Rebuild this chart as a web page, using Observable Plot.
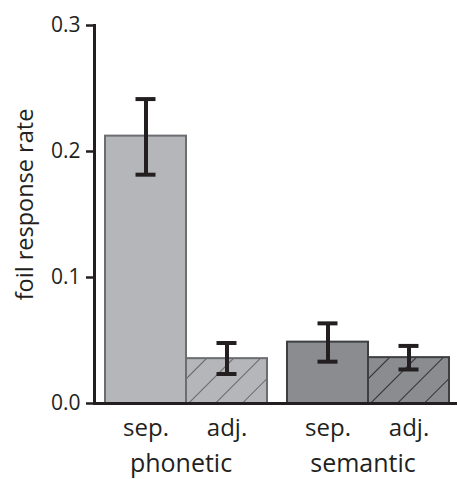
<!DOCTYPE html>
<html>
<head>
<meta charset="utf-8">
<script src="https://cdn.jsdelivr.net/npm/d3@7"></script>
<script src="https://cdn.jsdelivr.net/npm/@observablehq/plot@0.6"></script>
<style>
  html, body { margin: 0; padding: 0; background: #fff; }
</style>
</head>
<body>
<div id="chart"></div>
<script>
const groups = ["phonetic", "phonetic", "semantic", "semantic"];
const conditions = ["sep.", "adj.", "sep.", "adj."];
const rates = [0.2122, 0.0356, 0.0487, 0.0364];
const errLow = [0.1816, 0.0234, 0.0332, 0.0270];
const errHigh = [0.2416, 0.0480, 0.0636, 0.0457];
const yTicks = [0, 0.1, 0.2, 0.3];
const groupOrder = ["phonetic", "semantic"];
const condOrder = ["sep.", "adj."];
const yLabel = ["foil response rate"];

const fillColors = {phonetic: "#b5b6b9", semantic: "#8b8c8f"};
const strokeColors = {phonetic: "#6c6d70", semantic: "#3e3f41"};

const data = groups.map((g, i) => ({
  group: g, cond: conditions[i], rate: rates[i], lo: errLow[i], hi: errHigh[i]
}));
const hatched = data.filter(d => d.cond === "adj.");

const ink = "#231f20";

const chart = Plot.plot({
  width: 457,
  height: 479,
  marginLeft: 94,
  marginRight: 8,
  marginTop: 25,
  marginBottom: 76,
  style: {fontFamily: "'Open Sans', sans-serif", fontSize: "21px", color: ink, background: "#fff"},
  fx: {domain: groupOrder, paddingInner: 0.0495, paddingOuter: 0},
  x: {domain: condOrder, padding: 0, insetLeft: 11},
  y: {domain: [0, 0.3]},
  color: {type: "identity"},
  marks: [
    Plot.barY(data, {fx: "group", x: "cond", y: "rate", fill: d => fillColors[d.group]}),
    Plot.barY(hatched.filter(d => d.group === "phonetic"), {fx: "group", x: "cond", y: "rate", fill: "url(#hatch-light)"}),
    Plot.barY(hatched.filter(d => d.group === "semantic"), {fx: "group", x: "cond", y: "rate", fill: "url(#hatch-dark)"}),
    Plot.barY(data, {fx: "group", x: "cond", y: "rate", fill: "none", stroke: d => strokeColors[d.group], strokeWidth: 2}),
    Plot.ruleX(data, {fx: "group", x: "cond", y1: "lo", y2: "hi", stroke: ink, strokeWidth: 4}),
    Plot.tickY(data, {fx: "group", x: "cond", y: "lo", stroke: ink, strokeWidth: 4, insetLeft: 30.5, insetRight: 30.5}),
    Plot.tickY(data, {fx: "group", x: "cond", y: "hi", stroke: ink, strokeWidth: 4, insetLeft: 30.5, insetRight: 30.5}),
    Plot.ruleY([0], {stroke: ink, strokeWidth: 3, insetRight: -10}),
    Plot.frame({anchor: "left", facetAnchor: "left", stroke: ink, strokeWidth: 3}),
    Plot.axisY(yTicks, {tickFormat: d => d.toFixed(1), tickSize: 8, tickPadding: 6, strokeWidth: 2.5, stroke: ink,
      fontSize: 21, label: null}),
    Plot.text(yLabel, {text: d => d, frameAnchor: "left", facetAnchor: "left", rotate: -90, textAnchor: "middle",
      lineAnchor: "middle", dx: -69, dy: -10, fontSize: 23.5, fill: ink}),
    Plot.axisX({tickSize: 0, tickPadding: 15, label: null, fontSize: 24}),
    Plot.axisFx({anchor: "bottom", tickSize: 0, tickPadding: 51, label: null, fontSize: 25})
  ]
});

const ns = "http://www.w3.org/2000/svg";
const defs = document.createElementNS(ns, "defs");
function addPattern(id, color) {
  const p = document.createElementNS(ns, "pattern");
  p.setAttribute("id", id);
  p.setAttribute("patternUnits", "userSpaceOnUse");
  p.setAttribute("width", "19");
  p.setAttribute("height", "19");
  p.setAttribute("patternTransform", "rotate(45)");
  const l = document.createElementNS(ns, "line");
  l.setAttribute("x1", "0"); l.setAttribute("y1", "-2");
  l.setAttribute("x2", "0"); l.setAttribute("y2", "21");
  l.setAttribute("stroke", color);
  l.setAttribute("stroke-width", "1.8");
  p.appendChild(l);
  defs.appendChild(p);
}
addPattern("hatch-light", "#5e5f62");
addPattern("hatch-dark", "#262628");
chart.insertBefore(defs, chart.firstChild);

document.getElementById("chart").appendChild(chart);
</script>
</body>
</html>
